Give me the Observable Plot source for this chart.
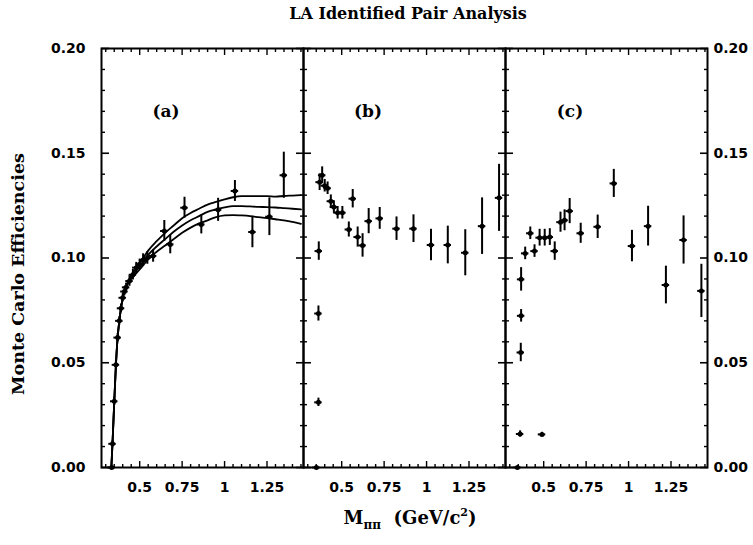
<!DOCTYPE html>
<html>
<head>
<meta charset="utf-8">
<script src="https://cdn.jsdelivr.net/npm/d3@7"></script>
<script src="https://cdn.jsdelivr.net/npm/@observablehq/plot@0.6"></script>
<style>
  body { margin: 0; background: #fff; }
  #wrap { position: relative; width: 753px; height: 545px; overflow: hidden; background: #fff; }
  #wrap svg { position: absolute; left: 0; top: 0; }
  .ttl { position: absolute; font-family: "DejaVu Serif", serif; font-weight: bold; color: #000; white-space: nowrap; text-align: center; }
  #title { left: 108px; width: 600px; top: 3px; font-size: 16px; line-height: 22px; }
  #xlab { left: 110px; width: 600px; top: 500px; font-size: 18px; line-height: 26px; }
  #ylab { left: -182px; top: 263px; width: 400px; font-size: 17.5px; line-height: 22px; transform: rotate(-90deg); transform-origin: 200px 11px; }
  #xlab sub { font-size: 12px; vertical-align: -5px; }
  #xlab sup { font-size: 11px; vertical-align: 8px; }
</style>
</head>
<body>
<div id="wrap">
  <div class="ttl" id="title">LA Identified Pair Analysis</div>
  <div class="ttl" id="ylab">Monte Carlo Efficiencies</div>
  <div class="ttl" id="xlab">M<sub>ππ</sub>&nbsp;&nbsp;(GeV/c<sup>2</sup>)</div>
</div>
<script>
// ---- panel names ----
const panels = ["a", "b", "c"];
const panelLabels = ["(a)", "(b)", "(c)"];

// ---- panel (a): data points ----
const aX   = [0.335, 0.340, 0.350, 0.360, 0.370, 0.380, 0.390, 0.400, 0.410, 0.420, 0.440, 0.460, 0.480, 0.500, 0.520, 0.545, 0.579, 0.645, 0.680, 0.764, 0.863, 0.962, 1.061, 1.164, 1.264, 1.349];
const aY   = [0.000, 0.0113, 0.0316, 0.049, 0.062, 0.070, 0.076, 0.081, 0.084, 0.086, 0.089, 0.092, 0.0954, 0.097, 0.099, 0.100, 0.101, 0.1129, 0.1065, 0.124, 0.116, 0.123, 0.132, 0.1124, 0.1197, 0.1395];
const aErr = [0, 0.0015, 0.002, 0.002, 0.002, 0.002, 0.002, 0.002, 0.002, 0.002, 0.0025, 0.0025, 0.0025, 0.0025, 0.003, 0.003, 0.003, 0.005, 0.0045, 0.005, 0.0045, 0.0055, 0.005, 0.0075, 0.009, 0.011];

// ---- panel (a): fitted curves (central, upper, lower) ----
const curveX   = [0.333, 0.34, 0.35, 0.36, 0.37, 0.38, 0.40, 0.43, 0.46, 0.50, 0.55, 0.60, 0.65, 0.70, 0.75, 0.80, 0.85, 0.90, 0.95, 1.00, 1.05, 1.10, 1.15, 1.20, 1.25, 1.30, 1.35, 1.40, 1.45];
const curveMid = [0, 0.012, 0.031, 0.049, 0.062, 0.070, 0.081, 0.088, 0.092, 0.096, 0.1015, 0.1055, 0.109, 0.1125, 0.1155, 0.118, 0.120, 0.122, 0.1232, 0.1242, 0.1248, 0.1248, 0.1246, 0.1244, 0.1243, 0.1241, 0.1238, 0.1235, 0.1232];
const curveHi  = [0, 0.012, 0.031, 0.049, 0.062, 0.070, 0.081, 0.0885, 0.093, 0.0975, 0.1035, 0.108, 0.112, 0.1155, 0.119, 0.1215, 0.1235, 0.1255, 0.1268, 0.128, 0.129, 0.1295, 0.1295, 0.1295, 0.1295, 0.1293, 0.1296, 0.1298, 0.130];
const curveLo  = [0, 0.012, 0.031, 0.049, 0.062, 0.070, 0.081, 0.0875, 0.091, 0.0945, 0.0995, 0.103, 0.106, 0.109, 0.112, 0.1145, 0.1165, 0.118, 0.1195, 0.1203, 0.1205, 0.1203, 0.120, 0.1195, 0.119, 0.1185, 0.118, 0.1172, 0.1163];

// ---- panel (b) ----
const bX   = [0.351, 0.363, 0.363, 0.365, 0.370, 0.385, 0.400, 0.417, 0.436, 0.454, 0.476, 0.504, 0.542, 0.565, 0.594, 0.623, 0.659, 0.724, 0.823, 0.923, 1.026, 1.125, 1.228, 1.327, 1.427];
const bY   = [0, 0.0311, 0.0735, 0.1033, 0.1362, 0.1395, 0.1345, 0.1333, 0.1271, 0.1243, 0.1216, 0.1216, 0.1136, 0.1283, 0.110, 0.106, 0.1176, 0.1189, 0.114, 0.114, 0.1062, 0.1062, 0.1025, 0.1152, 0.1287];
const bErr = [0, 0.002, 0.0036, 0.0044, 0.004, 0.004, 0.003, 0.003, 0.003, 0.003, 0.003, 0.003, 0.0036, 0.0044, 0.0048, 0.0056, 0.006, 0.0052, 0.0056, 0.0066, 0.0075, 0.009, 0.011, 0.0135, 0.016];

// ---- panel (c) ----
const cX   = [0.345, 0.361, 0.490, 0.365, 0.367, 0.367, 0.391, 0.421, 0.446, 0.476, 0.506, 0.536, 0.565, 0.599, 0.623, 0.653, 0.718, 0.818, 0.913, 1.020, 1.115, 1.220, 1.324, 1.429];
const cY   = [0, 0.016, 0.0158, 0.0549, 0.0724, 0.0898, 0.1022, 0.1118, 0.1033, 0.1097, 0.1097, 0.110, 0.1033, 0.1171, 0.118, 0.1224, 0.1118, 0.1149, 0.1356, 0.1057, 0.1152, 0.0871, 0.1086, 0.0843];
const cErr = [0, 0.0015, 0.001, 0.0044, 0.003, 0.0056, 0.003, 0.003, 0.003, 0.004, 0.004, 0.004, 0.0044, 0.0048, 0.005, 0.006, 0.0048, 0.0056, 0.0067, 0.0075, 0.0095, 0.009, 0.0115, 0.0127];

// ---- ticks ----
const xMajor = [0.5, 0.75, 1, 1.25];
const xMinor = [0.3, 0.35, 0.4, 0.45, 0.55, 0.6, 0.65, 0.7, 0.8, 0.85, 0.9, 0.95, 1.05, 1.1, 1.15, 1.2, 1.3, 1.35, 1.4, 1.45];
const yMajor = [0, 0.05, 0.10, 0.15, 0.20];
const yMinor = [0.01, 0.02, 0.03, 0.04, 0.06, 0.07, 0.08, 0.09, 0.11, 0.12, 0.13, 0.14, 0.16, 0.17, 0.18, 0.19];

// ---- build tables ----
const halfBin = 0.022;
const pts = [];
[[aX, aY, aErr, "a"], [bX, bY, bErr, "b"], [cX, cY, cErr, "c"]].forEach(([xs, ys, es, p]) => {
  xs.forEach((x, i) => pts.push({panel: p, x, y: ys[i], e: es[i]}));
});
const curves = [];
[[curveMid, "mid"], [curveHi, "hi"], [curveLo, "lo"]].forEach(([ys, s]) => {
  curveX.forEach((x, i) => curves.push({panel: "a", s, x, y: ys[i]}));
});
const labels = panels.map((p, i) => ({panel: p, t: panelLabels[i]}));

const tickFont = {fontFamily: "DejaVu Sans, sans-serif", fontWeight: "bold", fontSize: 14};

const chart = Plot.plot({
  width: 753,
  height: 545,
  marginTop: 48,
  marginBottom: 78,
  marginLeft: 100,
  marginRight: 46,
  style: {background: "transparent", color: "#000", overflow: "visible"},
  fx: {domain: panels, padding: 0, axis: null, label: null},
  x: {domain: [0.275, 1.465]},
  y: {domain: [0, 0.2]},
  marks: [
    // x ticks (inward), bottom and top
    Plot.axisX({anchor: "bottom", ticks: xMinor, tickSize: -3, fill: "none", label: null, strokeWidth: 1.4}),
    Plot.axisX({anchor: "bottom", ticks: xMajor, tickSize: -6, fill: "none", label: null, strokeWidth: 1.4}),
    Plot.axisX({anchor: "top", ticks: xMinor, tickSize: -3, fill: "none", label: null, strokeWidth: 1.4}),
    Plot.axisX({anchor: "top", ticks: xMajor, tickSize: -6, fill: "none", label: null, strokeWidth: 1.4}),
    // x tick labels
    Plot.axisX({anchor: "bottom", ticks: xMajor, tickSize: 0, tickPadding: 15, tickFormat: d => String(d), label: null, ...tickFont}),
    // y ticks (inward) on both sides of every panel
    Plot.axisY({anchor: "left", ticks: yMinor, tickSize: -4, fill: "none", label: null, facetAnchor: null, strokeWidth: 1.4}),
    Plot.axisY({anchor: "left", ticks: yMajor, tickSize: -8, fill: "none", label: null, facetAnchor: null, strokeWidth: 1.6}),
    Plot.axisY({anchor: "right", ticks: yMinor, tickSize: -4, fill: "none", label: null, facetAnchor: null, strokeWidth: 1.4}),
    Plot.axisY({anchor: "right", ticks: yMajor, tickSize: -8, fill: "none", label: null, facetAnchor: null, strokeWidth: 1.6}),
    // y tick labels
    Plot.axisY({anchor: "left", ticks: yMajor, tickSize: 0, tickPadding: 16, tickFormat: d3.format(".2f"), label: null, ...tickFont}),
    Plot.axisY({anchor: "right", ticks: yMajor, tickSize: 0, tickPadding: 6, tickFormat: d3.format(".2f"), label: null, ...tickFont}),
    Plot.frame({strokeWidth: 2}),
    // curves in (a)
    Plot.line(curves, {x: "x", y: "y", z: "s", fx: "panel", stroke: "#000", strokeWidth: 1.8, curve: "monotone-x"}),
    // error bars
    Plot.ruleX(pts, {x: "x", y1: d => d.y - d.e, y2: d => d.y + d.e, fx: "panel", stroke: "#000", strokeWidth: 2}),
    Plot.ruleY(pts, {y: "y", x1: d => d.x - halfBin, x2: d => d.x + halfBin, fx: "panel", stroke: "#000", strokeWidth: 2}),
    Plot.dot(pts, {x: "x", y: "y", fx: "panel", r: 2.5, fill: "#000"}),
    // panel labels
    Plot.text(labels, {fx: "panel", x: 0.655, y: 0.170, text: "t", fontFamily: "DejaVu Serif, serif", fontWeight: "bold", fontSize: 17, fill: "#000"})
  ]
});
document.getElementById("wrap").prepend(chart);
</script>
</body>
</html>
